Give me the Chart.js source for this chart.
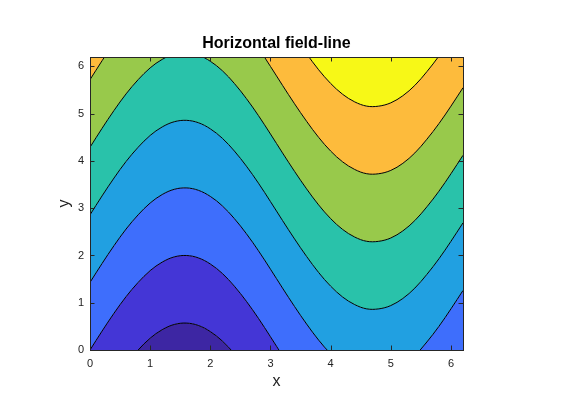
<!DOCTYPE html>
<html>
<head>
<meta charset="utf-8">
<script src="https://cdn.jsdelivr.net/npm/chart.js@4/dist/chart.umd.min.js"></script>
<style>
  html, body { margin: 0; padding: 0; background: #fff; }
  #wrap { width: 565px; height: 405px; }
</style>
</head>
<body>
<div id="wrap"><canvas id="myChart" width="565" height="405"></canvas></div>
<script>
// x positions of the samples along every contour line
const xs = [0, 0.2, 0.4, 0.6, 0.8, 1.0, 1.2, 1.4, 1.6, 1.8, 2.0, 2.2, 2.4, 2.6, 2.8, 3.0,
            3.2, 3.4, 3.6, 3.8, 4.0, 4.2, 4.4, 4.6, 4.8, 5.0, 5.2, 5.4, 5.6, 5.8, 6.0, 6.2];
// shape of a contour line (offset from its level)
const wave = [0, 0.40, 0.78, 1.13, 1.43, 1.68, 1.86, 1.97, 2.0, 1.95, 1.82, 1.62, 1.35, 1.03, 0.67, 0.28,
              -0.12, -0.51, -0.88, -1.22, -1.51, -1.74, -1.90, -1.99, -1.99, -1.92, -1.77, -1.55, -1.26, -0.93, -0.56, -0.17];
// level of each contour line (its value at x = 0)
const levels = [-1.43, 0, 1.43, 2.86, 4.29, 5.72, 7.15];
// band colours, from the lowest band to the highest
const bandColors = ['#3d26a3', '#4436d6', '#3e6efc', '#21a0e1', '#29c2aa', '#98c94b', '#fdbb3c', '#f7f817'];
const xTicks = [0, 1, 2, 3, 4, 5, 6];
const yTicks = [0, 1, 2, 3, 4, 5, 6];

const datasets = levels.map((lev, i) => ({
    data: xs.map((x, j) => ({ x: x, y: lev + wave[j] })),
    borderColor: '#000',
    borderWidth: 1,
    backgroundColor: bandColors[i],
    fill: i === 0 ? 'start' : '-1',
    pointRadius: 0,
    tension: 0.35
}));
// top band above the last line
datasets.push({
    data: xs.map((x, j) => ({ x: x, y: levels[levels.length - 1] + wave[j] })),
    borderWidth: 0,
    borderColor: 'rgba(0,0,0,0)',
    backgroundColor: bandColors[bandColors.length - 1],
    fill: 'end',
    pointRadius: 0,
    tension: 0.35
});

// box round the axes with inward ticks on all four sides
const boxTicks = {
    id: 'boxTicks',
    afterDatasetsDraw(chart) {
        const ctx = chart.ctx;
        const a = chart.chartArea;
        const sx = chart.scales.x, sy = chart.scales.y;
        const len = 4.5;
        ctx.save();
        ctx.strokeStyle = '#262626';
        ctx.lineWidth = 1;
        ctx.beginPath();
        xTicks.forEach(v => {
            const px = Math.round(sx.getPixelForValue(v)) + 0.5;
            ctx.moveTo(px, a.bottom); ctx.lineTo(px, a.bottom - len);
            ctx.moveTo(px, a.top); ctx.lineTo(px, a.top + len);
        });
        yTicks.forEach(v => {
            const py = Math.round(sy.getPixelForValue(v)) + 0.5;
            ctx.moveTo(a.left, py); ctx.lineTo(a.left + len, py);
            ctx.moveTo(a.right, py); ctx.lineTo(a.right - len, py);
        });
        ctx.stroke();
        ctx.strokeRect(Math.round(a.left) + 0.5, Math.round(a.top) + 0.5,
                       Math.round(a.right - a.left), Math.round(a.bottom - a.top));
        ctx.restore();
    }
};

const font = 'Liberation Sans, Arial, sans-serif';
const ctx = document.getElementById('myChart').getContext('2d');

const myChart = new Chart(ctx, {
    type: 'line',
    data: { datasets: datasets },
    plugins: [boxTicks],
    options: {
        responsive: false,
        animation: false,
        events: [],
        layout: { padding: { left: 0, right: 102, top: 30, bottom: 0 } },
        plugins: {
            legend: { display: false },
            tooltip: { enabled: false },
            title: {
                display: true,
                text: 'Horizontal field-line',
                fullSize: false,
                color: '#000',
                font: { family: font, size: 16, weight: 'bold' },
                padding: { top: 4.4, bottom: 3.4 }
            }
        },
        scales: {
            x: {
                type: 'linear',
                min: 0,
                max: 6.2,
                afterBuildTicks: s => { s.ticks = xTicks.map(v => ({ value: v })); },
                afterFit: s => { s.height = 55; },
                grid: { display: false, drawTicks: false },
                border: { display: false },
                ticks: {
                    color: '#222',
                    padding: 7,
                    maxRotation: 0,
                    font: { family: font, size: 11 }
                },
                title: {
                    display: true,
                    text: 'x',
                    color: '#222',
                    padding: { top: 0, bottom: 13.4 },
                    font: { family: font, size: 16 }
                }
            },
            y: {
                type: 'linear',
                min: 0,
                max: 6.2,
                afterBuildTicks: s => { s.ticks = yTicks.map(v => ({ value: v })); },
                afterFit: s => { s.width = 90; },
                grid: { display: false, drawTicks: false },
                border: { display: false },
                ticks: {
                    color: '#222',
                    padding: 6,
                    font: { family: font, size: 11 }
                },
                title: {
                    display: true,
                    text: 'y',
                    color: '#222',
                    padding: { top: 55.4, bottom: 0 },
                    font: { family: font, size: 16 }
                }
            }
        }
    }
});
</script>
</body>
</html>
